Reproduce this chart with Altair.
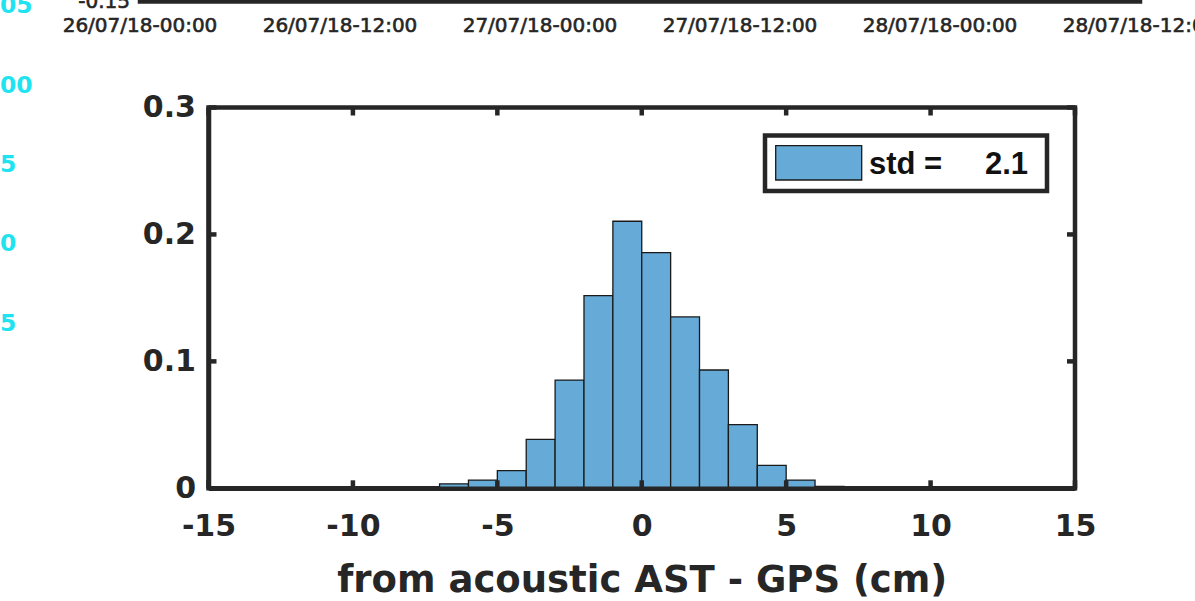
import altair as alt
import pandas as pd

# ---------------- data ----------------
bin_start = [-7, -6, -5, -4, -3, -2, -1, 0, 1, 2, 3, 4, 5, 6]
bin_end = [-6, -5, -4, -3, -2, -1, 0, 1, 2, 3, 4, 5, 6, 7]
probability = [0.0035, 0.0065, 0.0139, 0.0386, 0.0853, 0.1518, 0.2104,
               0.1857, 0.1350, 0.0932, 0.0501, 0.0181, 0.0065, 0.0015]

x_ticks = [-15, -10, -5, 0, 5, 10, 15]
y_ticks = [0, 0.1, 0.2, 0.3]
x_title = "from acoustic AST - GPS (cm)"
legend_texts = ["std =", "2.1"]

date_values = ["2018-07-26T00:00:00Z", "2018-07-26T12:00:00Z", "2018-07-27T00:00:00Z",
               "2018-07-27T12:00:00Z", "2018-07-28T00:00:00Z", "2018-07-28T12:00:00Z"]
date_labels = ["26/07/18-00:00", "26/07/18-12:00", "27/07/18-00:00",
               "27/07/18-12:00", "28/07/18-00:00", "28/07/18-12:00"]
upper_y_label = ["-0.15"]
cyan_labels = ["05", "00", "5", "0", "5"]

# ---------------- layout ----------------
PAD_L, PAD_T = 208.5, 107.5
W, H = 866.5, 380.8
PAD_R, PAD_B = 1195 - PAD_L - W, 601 - PAD_T - H
DARK = "#262626"
BAR = "#66AAD7"
LW = 4.5
TL = 8

xs = alt.Scale(domain=[-15, 15], nice=False, zero=False)
ys = alt.Scale(domain=[0, 0.3], nice=False, zero=False)

axis_common = dict(labelFont="DejaVu Sans", labelFontSize=30, labelFontWeight="bold",
                   labelColor=DARK, domainColor=DARK, domainWidth=LW, ticks=False,
                   grid=False, labelOverlap=False, labelFlush=False,
                   labelExpr="'' + datum.value", zindex=1)
X_AXIS = alt.Axis(values=x_ticks, title=x_title, labelPadding=23,
                  titleY=102.7, titleBaseline="alphabetic",
                  titleFont="DejaVu Sans", titleFontSize=37, titleFontWeight="bold",
                  titleColor=DARK, **axis_common)
Y_AXIS = alt.Axis(values=y_ticks, title=None, labelPadding=13, **axis_common)

hist_df = pd.DataFrame({"start": bin_start, "end": bin_end, "p": probability})

bars = alt.Chart(hist_df).mark_rect(fill=BAR, stroke="#1a1a1a", strokeWidth=1.3).encode(
    x=alt.X("start:Q", scale=xs, axis=X_AXIS),
    x2="end:Q",
    y=alt.Y("p:Q", scale=ys, axis=Y_AXIS),
    y2=alt.datum(0),
)

xt_df = pd.DataFrame({"v": x_ticks})
yt_df = pd.DataFrame({"v": y_ticks})
tick_style = dict(color=DARK, strokeWidth=LW)

ticks_bottom = alt.Chart(xt_df).mark_rule(**tick_style).encode(
    x=alt.X("v:Q", scale=xs, axis=X_AXIS), y=alt.value(H), y2=alt.value(H - TL))
ticks_top = alt.Chart(xt_df).mark_rule(**tick_style).encode(
    x=alt.X("v:Q", scale=xs, axis=X_AXIS), y=alt.value(0), y2=alt.value(TL))
ticks_left = alt.Chart(yt_df).mark_rule(**tick_style).encode(
    y=alt.Y("v:Q", scale=ys, axis=Y_AXIS), x=alt.value(0), x2=alt.value(TL))
ticks_right = alt.Chart(yt_df).mark_rule(**tick_style).encode(
    y=alt.Y("v:Q", scale=ys, axis=Y_AXIS), x=alt.value(W - TL), x2=alt.value(W))

# legend (drawn box, swatch and text)
lg_x0, lg_x1 = 765 - PAD_L, 1047 - PAD_L
lg_y0, lg_y1 = 135.5 - PAD_T, 191 - PAD_T
legend_df = pd.DataFrame({"k": [0]})
legend_box = alt.Chart(legend_df).mark_rect(fill="white", stroke=DARK, strokeWidth=LW).encode(
    x=alt.value(lg_x0), x2=alt.value(lg_x1), y=alt.value(lg_y0), y2=alt.value(lg_y1))
legend_swatch = alt.Chart(legend_df).mark_rect(fill=BAR, stroke="#1a1a1a", strokeWidth=1.3).encode(
    x=alt.value(775.7 - PAD_L), x2=alt.value(861.7 - PAD_L),
    y=alt.value(145.7 - PAD_T), y2=alt.value(180 - PAD_T))
lt_style = dict(font="Liberation Sans", fontSize=31, fontWeight="bold", color="#111111",
                baseline="alphabetic")
legend_t1 = alt.Chart(pd.DataFrame({"t": [legend_texts[0]]})).mark_text(align="left", **lt_style).encode(
    x=alt.value(869 - PAD_L), y=alt.value(173.5 - PAD_T), text="t:N")
legend_t2 = alt.Chart(pd.DataFrame({"t": [legend_texts[1]]})).mark_text(align="right", **lt_style).encode(
    x=alt.value(1028 - PAD_L), y=alt.value(173.5 - PAD_T), text="t:N")

hist = alt.layer(bars, ticks_bottom, ticks_top, ticks_left, ticks_right,
                 legend_box, legend_swatch, legend_t1, legend_t2)

# ---------------- upper (cropped) panel remnants ----------------
date_scale = alt.Scale(type="utc",
                       domain=[alt.DateTime(year=2018, month=7, date=26, hours=0, utc=True),
                               alt.DateTime(year=2018, month=7, date=28, hours=12, utc=True)],
                       range=[140 - PAD_L, 1140 - PAD_L])
small_style = dict(font="DejaVu Sans", fontSize=20, color=DARK, stroke=DARK, strokeWidth=0.6,
                   baseline="alphabetic")
dates_df = pd.DataFrame({"t": date_values, "label": date_labels})
date_text = alt.Chart(dates_df).mark_text(align="center", **small_style).encode(
    x=alt.X("t:T", scale=date_scale, axis=None), y=alt.value(32 - PAD_T), text="label:N")
line_df = pd.DataFrame({"s": [date_values[0]], "e": [date_values[-1]]})
date_line = alt.Chart(line_df).mark_rule(color=DARK, strokeWidth=LW, strokeCap="square").encode(
    x=alt.X("s:T", scale=date_scale, axis=None), x2="e:T", y=alt.value(1.5 - PAD_T))
up_lab = alt.Chart(pd.DataFrame({"t": upper_y_label})).mark_text(align="right", **small_style).encode(
    x=alt.value(130 - PAD_L), y=alt.value(8 - PAD_T), text="t:N")

cyan_y = [13, 92.5, 171.5, 251, 330.5]
cyan_df = pd.DataFrame({"t": cyan_labels, "yy": [v - PAD_T for v in cyan_y]})
cyan_text = alt.Chart(cyan_df).mark_text(
    font="DejaVu Sans", fontSize=23.5, fontWeight="bold", color="#1FE3F0",
    baseline="alphabetic", align="left").encode(
    x=alt.value(0 - PAD_L), y=alt.value(0), yOffset=alt.YOffset("yy:Q", scale=None),
    text="t:N")

upper = alt.layer(date_line, date_text, up_lab, cyan_text)

chart = alt.layer(hist, upper).resolve_scale(x="independent").properties(
    width=W, height=H,
    autosize=alt.AutoSizeParams(type="none"),
    padding={"left": PAD_L, "top": PAD_T, "right": PAD_R, "bottom": PAD_B},
    background="white",
).configure_view(
    stroke=DARK, strokeWidth=LW
)

chart.save("out.html", embed_options={"renderer": "svg", "actions": False})
